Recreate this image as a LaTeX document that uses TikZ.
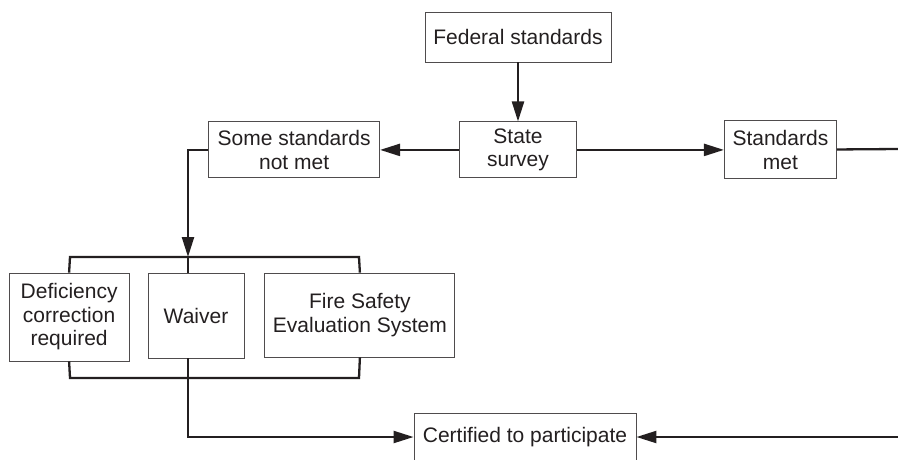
\documentclass[tikz,border=0pt]{standalone}
\usepackage{fontspec}
\setmainfont{Liberation Sans}
\usetikzlibrary{positioning, arrows.meta}
\definecolor{ink}{HTML}{231F20}

\begin{document}
\begin{tikzpicture}[x=1pt, y=1pt, node distance=20pt,
  box/.style={draw=ink!80, line width=0.9pt, align=center, text=ink, inner sep=2pt,
    font=\fontsize{21}{23.5}\selectfont},
  conn/.style={draw=ink, line width=2.3pt},
  arr/.style={conn, -{Triangle[length=20pt, width=12pt]}}]
\useasboundingbox (0,0) rectangle (898,-459);
\node[box, minimum width=186pt, minimum height=50pt] at (518,-37) (fed) {Federal standards};
\node[box, minimum width=117pt, minimum height=56pt, below=59pt of fed] (state) {State\\survey};
\node[box, minimum width=171pt, minimum height=56pt, left=79pt of state] (some) {Some standards\\not met};
\node[box, minimum width=112pt, minimum height=58pt, right=147pt of state] (met) {Standards\\met};
\node[box, minimum width=96pt, minimum height=85pt] at (196,-315.5) (waiver) {Waiver};
\node[box, minimum width=120pt, minimum height=88pt, left=18pt of waiver.north west, anchor=north east] (defic) {Deficiency\\correction\\required};
\node[box, minimum width=190pt, minimum height=84pt, right=20pt of waiver.north east, anchor=north west] (fire) {Fire Safety\\Evaluation System};
\node[box, minimum width=222pt, minimum height=48pt] at (525,-437) (cert) {Certified to participate};
% bracket points
\coordinate (split) at (188,-257);
\coordinate (merge) at (188,-378);
\coordinate (ltop) at (70,-257);
\coordinate (rtop) at (359,-257);
\coordinate (lbot) at (70,-378);
\coordinate (rbot) at (359,-378);
\coordinate (metend) at (898,-149);
\coordinate (certend) at (898,-437);
\draw[arr] (fed) -- (state);
\draw[arr] (state) -- (some);
\draw[arr] (state) -- (met);
\draw[conn] (met) -- (metend);
\draw[arr] (some.west) -| (split);
\draw[conn] (defic.north) -- (ltop) -- (rtop) -- (fire.north);
\draw[conn] (split) -- (split |- waiver.north);
\draw[conn] (defic.south) -- (lbot) -- (rbot) -- (fire.south);
\draw[conn] (split |- waiver.south) -- (merge);
\draw[arr] (merge) |- (cert.west);
\draw[arr] (certend) -- (cert.east);
\end{tikzpicture}
\end{document}
